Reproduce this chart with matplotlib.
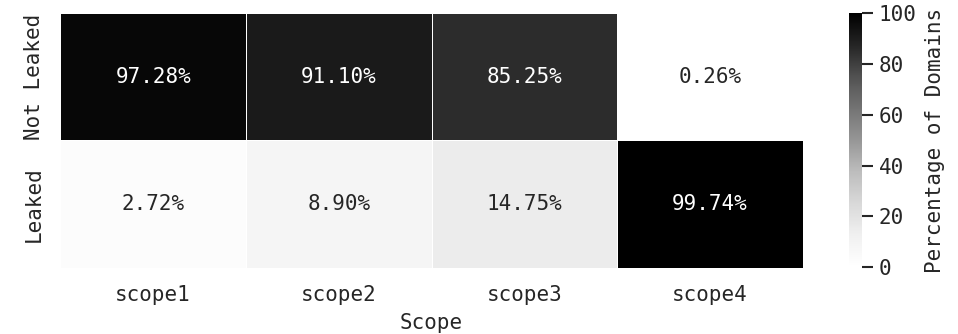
import numpy as np
import matplotlib
matplotlib.use("Agg")
import matplotlib.pyplot as plt
import seaborn as sns

scopes = ["scope1", "scope2", "scope3", "scope4"]
rows = ["Not Leaked", "Leaked"]
not_leaked = [97.28, 91.10, 85.25, 0.26]
leaked = [2.72, 8.90, 14.75, 99.74]

sns.set_theme(style="white")
plt.rcParams['font.family'] = ['DejaVu Sans Mono']
plt.rcParams['font.size'] = 15

data = np.array([not_leaked, leaked])
labels = np.array([["%.2f%%" % v for v in r] for r in data])

fig = plt.figure(figsize=(9.58, 3.34), dpi=100)
ax = fig.add_axes([0.063, 0.198, 0.775, 0.763])
cax = fig.add_axes([0.886, 0.2, 0.014, 0.761])
sns.heatmap(data, ax=ax, cbar_ax=cax, cmap="Greys", vmin=0, vmax=100,
            annot=labels, fmt="", annot_kws={"fontsize": 15},
            linewidths=0.5, linecolor="white",
            xticklabels=scopes, yticklabels=rows,
            cbar_kws={"label": "Percentage of Domains"})
ax.set_xlabel("Scope", fontsize=15, labelpad=6)
ax.tick_params(axis="both", labelsize=15, length=0, pad=12)
ax.set_yticklabels(rows, rotation=90, va="center")
ax.set_xticklabels(scopes, rotation=0)
cax.tick_params(labelsize=15, length=8, width=1.5, color="#262626", pad=4)
cax.set_yticks([0, 20, 40, 60, 80, 100])
cax.yaxis.label.set_size(15)
cax.yaxis.labelpad = 6
fig.savefig("out.png", dpi=100)
